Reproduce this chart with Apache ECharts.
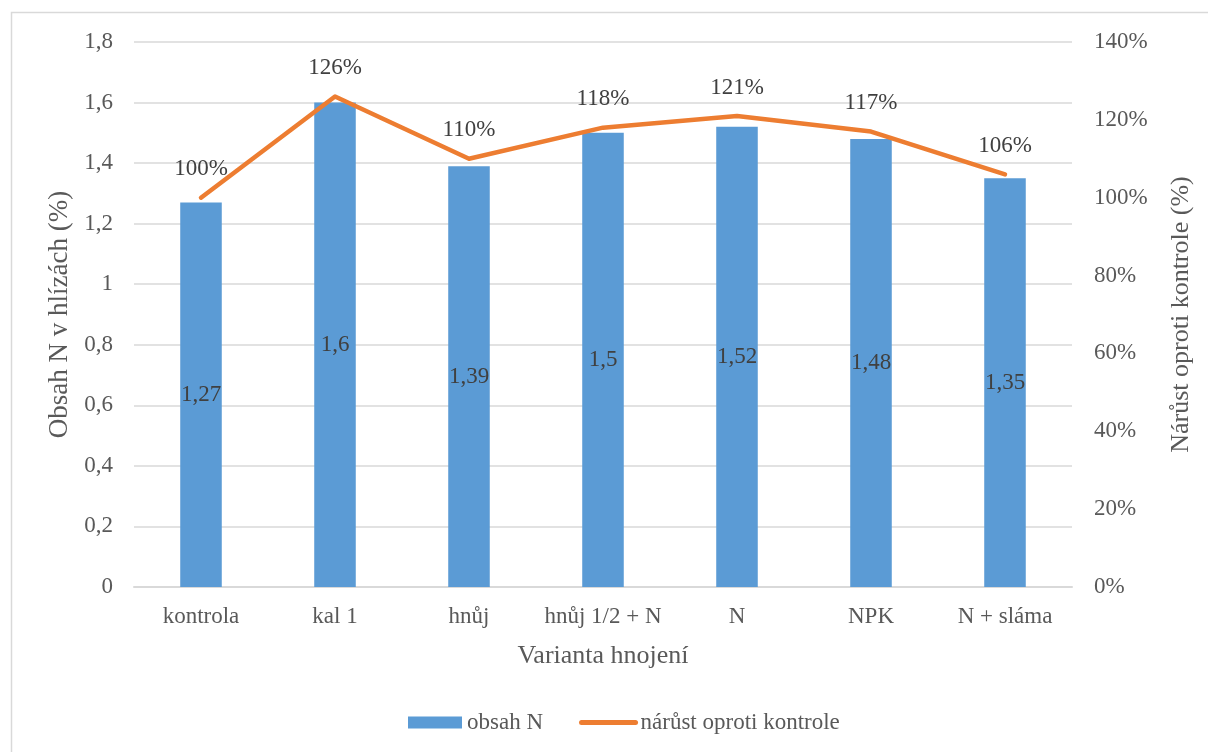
<!DOCTYPE html>
<html>
<head>
<meta charset="utf-8">
<script src="https://cdn.jsdelivr.net/npm/echarts@6/dist/echarts.min.js"></script>
<style>
  html, body { margin: 0; padding: 0; background: #fff; }
  #chart { width: 1208px; height: 752px; }
</style>
</head>
<body>
<div id="chart"></div>
<script>
// Fertilisation variants
const categories = ['kontrola', 'kal 1', 'hnůj', 'hnůj 1/2 + N', 'N', 'NPK', 'N + sláma'];
// Nitrogen content in tubers (%)
const obsahN = [1.27, 1.6, 1.39, 1.5, 1.52, 1.48, 1.35];
// Increase relative to control (%)
const narust = [100, 126, 110, 118, 121, 117, 106];

const FONT = '"Liberation Serif", "Times New Roman", serif';
const TXT = '#595959';
const LBL = '#404040';
const comma = v => String(v).replace('.', ',');

const chart = echarts.init(document.getElementById('chart'));
chart.setOption({
  backgroundColor: '#fff',
  animation: false,
  textStyle: { fontFamily: FONT },
  graphic: [{
    type: 'rect',
    shape: { x: 11.5, y: 12.5, width: 1300, height: 900 },
    style: { fill: 'none', stroke: '#d9d9d9', lineWidth: 1.5 },
    silent: true
  }],
  grid: { left: 134, right: 136, top: 42, bottom: 165 },
  legend: {
    top: 706,
    left: 403,
    itemGap: 36,
    itemWidth: 54,
    itemHeight: 12,
    textStyle: { fontFamily: FONT, fontSize: 23, color: TXT },
    data: [
      { name: 'obsah N', icon: 'rect' },
      {
        name: 'nárůst oproti kontrole',
        itemStyle: { opacity: 0 },
        lineStyle: { width: 5, cap: 'round' }
      }
    ]
  },
  xAxis: {
    type: 'category',
    data: categories,
    name: 'Varianta hnojení',
    nameLocation: 'middle',
    nameGap: 56,
    nameTextStyle: { fontFamily: FONT, fontSize: 26, color: TXT },
    axisLine: { lineStyle: { color: '#d9d9d9', width: 2 } },
    axisTick: { show: false },
    axisLabel: { fontFamily: FONT, fontSize: 23, color: TXT, margin: 18, interval: 0 }
  },
  yAxis: [{
    type: 'value',
    min: 0, max: 1.8, interval: 0.2,
    name: 'Obsah N v hlízách (%)',
    nameLocation: 'middle',
    nameGap: 60,
    nameTextStyle: { fontFamily: FONT, fontSize: 27, color: TXT },
    axisLine: { show: false },
    axisTick: { show: false },
    splitLine: { lineStyle: { color: '#d9d9d9', width: 1.5 } },
    axisLabel: {
      fontFamily: FONT, fontSize: 23, color: TXT, margin: 21,
      formatter: v => comma(Math.round(v * 10) / 10)
    }
  }, {
    type: 'value',
    min: 0, max: 140, interval: 20,
    name: 'Nárůst oproti kontrole (%)',
    nameLocation: 'middle',
    nameGap: 96,
    nameRotate: 90,
    nameTextStyle: { fontFamily: FONT, fontSize: 26, color: TXT },
    axisLine: { show: false },
    axisTick: { show: false },
    splitLine: { show: false },
    axisLabel: {
      fontFamily: FONT, fontSize: 23, color: TXT, margin: 22,
      formatter: '{value}%'
    }
  }],
  series: [{
    name: 'obsah N',
    type: 'bar',
    data: obsahN,
    barWidth: '31%',
    itemStyle: { color: '#5b9bd5' },
    label: {
      show: true,
      position: 'inside',
      fontFamily: FONT, fontSize: 23, color: LBL,
      formatter: p => comma(p.value)
    }
  }, {
    name: 'nárůst oproti kontrole',
    type: 'line',
    yAxisIndex: 1,
    data: narust,
    symbol: 'circle',
    symbolSize: 0,
    showSymbol: true,
    lineStyle: { color: '#ed7d31', width: 4.5, cap: 'round', join: 'round' },
    itemStyle: { color: '#ed7d31' },
    label: {
      show: true,
      position: 'top',
      distance: 17,
      fontFamily: FONT, fontSize: 23, color: LBL,
      formatter: '{c}%'
    }
  }]
});
</script>
</body>
</html>
